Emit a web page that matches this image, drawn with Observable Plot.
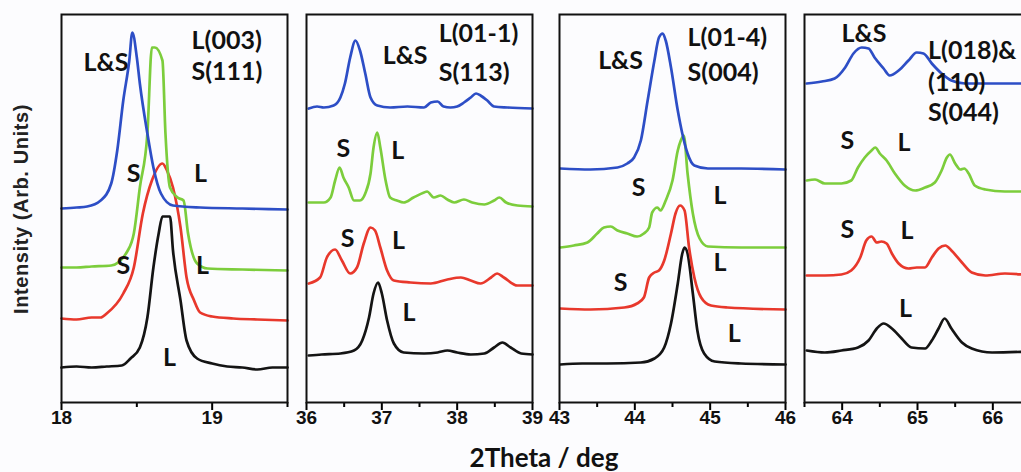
<!DOCTYPE html>
<html><head><meta charset="utf-8">
<script src="https://cdn.jsdelivr.net/npm/d3@7"></script>
<script src="https://cdn.jsdelivr.net/npm/@observablehq/plot@0.6"></script>
<style>
html,body{margin:0;padding:0;background:#fcfcfe;}
#wrap{position:relative;width:1021px;height:472px;overflow:hidden;background:#fcfcfe;}
.panel{position:absolute;top:0;}
#ylab{position:absolute;left:21px;top:209px;transform:translate(-50%,-50%) rotate(-90deg);font:bold 20px "Liberation Sans",Arial,sans-serif;letter-spacing:0.6px;white-space:nowrap;color:#222;}
#xlab{position:absolute;left:544px;top:457px;transform:translate(-50%,-50%);font:bold 26px Lato,sans-serif;white-space:nowrap;color:#111;}
</style></head><body>
<div id="wrap"><div id="ylab">Intensity (Arb. Units)</div><div id="xlab">2Theta / deg</div></div>
<script>
// ---- Panel 1: 18–19.5 deg ----
const p1Black = [[18.0,35],[18.1,36],[18.2,35],[18.3,36],[18.4,37],[18.458,44],[18.52,55],[18.57,85],[18.61,135],[18.645,169],[18.67,186],[18.72,186],[18.74,152],[18.79,102],[18.83,62],[18.9,44],[19.0,39],[19.1,36],[19.2,35],[19.3,33],[19.4,35],[19.5,35]];
const p1Red = [[18.0,84],[18.1,83],[18.2,85],[18.26,85],[18.3,89],[18.41,109],[18.48,135],[18.54,189],[18.6,222],[18.67,239],[18.7,232],[18.74,215],[18.79,175],[18.83,125],[18.88,102],[18.92,90],[19.0,86],[19.14,84],[19.3,83],[19.5,82]];
const p1Green = [[18.0,135],[18.1,135],[18.2,136],[18.33,137],[18.44,152],[18.48,169],[18.52,215],[18.57,269],[18.6,355],[18.62,355],[18.67,342],[18.69,269],[18.72,215],[18.77,205],[18.81,202],[18.84,169],[18.9,139],[18.97,134],[19.2,133],[19.5,132]];
const p1Blue = [[18.0,194],[18.1,195],[18.17,196],[18.26,202],[18.33,219],[18.37,252],[18.41,302],[18.45,342],[18.47,370],[18.5,345],[18.52,319],[18.57,269],[18.61,235],[18.66,209],[18.74,197],[18.92,195],[19.2,194],[19.5,193]];
// ---- Panel 2: 36–39 deg ----
const p2Black = [[36.03,47],[36.2,48],[36.45,49],[36.63,52],[36.74,62],[36.83,85],[36.89,109],[36.95,120],[37.0,109],[37.07,82],[37.16,59],[37.29,50],[37.56,49],[37.74,50],[37.87,52],[38.0,50],[38.18,48],[38.36,49],[38.49,55],[38.6,60],[38.71,55],[38.85,49],[39.0,48]];
const p2Red = [[36.03,119],[36.18,125],[36.27,145],[36.38,153],[36.47,142],[36.58,129],[36.67,135],[36.76,159],[36.85,175],[36.91,172],[36.98,155],[37.07,132],[37.16,122],[37.38,120],[37.65,119],[37.87,123],[38.05,125],[38.18,122],[38.31,119],[38.45,125],[38.53,129],[38.62,125],[38.8,117],[39.0,117]];
const p2Green = [[36.03,200],[36.23,200],[36.32,205],[36.38,222],[36.44,235],[36.49,225],[36.56,215],[36.63,202],[36.71,202],[36.78,209],[36.85,229],[36.89,255],[36.94,270],[36.98,255],[37.05,222],[37.11,205],[37.2,202],[37.29,200],[37.42,205],[37.56,210],[37.6,211],[37.69,205],[37.78,207],[37.87,203],[37.96,200],[38.09,203],[38.2,200],[38.36,198],[38.49,202],[38.56,205],[38.65,200],[38.8,197],[39.0,196]];
const p2Blue = [[36.03,294],[36.14,296],[36.23,295],[36.36,297],[36.45,305],[36.51,319],[36.58,345],[36.65,362],[36.71,352],[36.78,329],[36.85,305],[36.94,297],[37.11,295],[37.34,296],[37.56,295],[37.65,300],[37.74,301],[37.82,296],[37.91,295],[38.0,296],[38.09,300],[38.18,305],[38.25,309],[38.31,307],[38.4,302],[38.49,296],[38.67,295],[39.0,294]];
// ---- Panel 3: 43–46 deg ----
const p3Black = [[43.01,38],[43.3,39],[43.63,39],[44.08,40],[44.26,44],[44.39,55],[44.48,79],[44.57,119],[44.63,149],[44.66,155],[44.7,149],[44.77,109],[44.83,72],[44.92,49],[45.06,41],[45.41,39],[46.0,38]];
const p3Red = [[43.01,94],[43.41,93],[43.86,95],[44.03,99],[44.12,105],[44.19,125],[44.26,130],[44.32,132],[44.39,142],[44.48,169],[44.54,189],[44.6,197],[44.66,192],[44.72,155],[44.79,125],[44.88,105],[45.01,97],[45.23,95],[46.0,93]];
const p3Green = [[43.01,155],[43.19,157],[43.37,160],[43.5,169],[43.59,175],[43.68,176],[43.77,172],[43.9,169],[44.03,166],[44.12,169],[44.19,175],[44.23,190],[44.3,195],[44.34,192],[44.41,202],[44.5,222],[44.57,252],[44.61,262],[44.65,267],[44.7,229],[44.77,189],[44.86,164],[44.97,156],[45.41,155],[46.0,155]];
const p3Blue = [[43.01,234],[43.41,233],[43.77,235],[43.9,239],[43.99,245],[44.08,262],[44.17,302],[44.26,342],[44.32,365],[44.37,369],[44.41,362],[44.48,335],[44.57,292],[44.63,269],[44.7,249],[44.79,237],[44.97,234],[45.41,234],[46.0,233]];
// ---- Panel 4: 63.5–66.5 deg ----
const p4Black = [[63.53,52],[63.77,50],[63.99,52],[64.21,55],[64.35,62],[64.46,74],[64.55,79],[64.66,74],[64.79,64],[64.92,55],[65.1,54],[65.19,62],[65.28,74],[65.36,84],[65.45,74],[65.59,60],[65.72,54],[65.99,50],[66.5,51]];
const p4Red = [[63.53,127],[63.77,127],[63.99,128],[64.12,132],[64.24,145],[64.32,162],[64.39,166],[64.46,160],[64.52,161],[64.59,159],[64.66,149],[64.75,139],[64.88,134],[64.99,135],[65.1,135],[65.19,145],[65.28,154],[65.37,157],[65.45,152],[65.59,140],[65.72,130],[65.9,127],[66.16,129],[66.5,127]];
const p4Green = [[63.53,222],[63.64,223],[63.77,219],[63.99,219],[64.12,222],[64.21,235],[64.3,245],[64.39,252],[64.44,255],[64.5,249],[64.59,242],[64.7,229],[64.83,217],[64.97,212],[65.1,215],[65.23,220],[65.32,232],[65.39,245],[65.43,248],[65.5,239],[65.57,233],[65.62,234],[65.68,229],[65.76,217],[65.9,213],[66.16,211],[66.5,211]];
const p4Blue = [[63.53,319],[63.73,321],[63.9,324],[64.04,335],[64.15,349],[64.26,355],[64.35,354],[64.43,345],[64.55,334],[64.63,327],[64.75,332],[64.88,342],[64.99,350],[65.08,349],[65.19,339],[65.32,329],[65.45,322],[65.63,319],[65.99,319],[66.5,319]];

// ---- x domains and ticks ----
const domains = [[18,19.5],[36,39],[43,46],[63.5,66.5]];
const majorTicks = [[18,19],[36,37,38,39],[43,44,45,46],[64,65,66]];
const minorTicks = [[18.5,19.5],[36.5,37.5,38.5],[43.5,44.5,45.5],[63.5,64.5,65.5,66.5]];

// ---- annotations (data coordinates) ----
const hklLabels = [
  [[18.863,362,"L(003)"],[18.863,331,"S(111)"]],
  [[37.755,369,"L(01-1)"],[37.755,330,"S(113)"]],
  [[44.70,365,"L(01-4)"],[44.70,330,"S(004)"]],
  [[65.14,352,"L(018)&"],[65.14,320,"(110)"],[65.14,290,"S(044)"]]
];
const peakLabels = [
  [[18.295,340,"L&S"],[18.478,229,"S"],[18.922,229,"L"],[18.411,137,"S"],[18.936,137,"L"],[18.717,45,"L"]],
  [[37.31,347,"L&S"],[36.49,254,"S"],[37.21,252,"L"],[36.545,164,"S"],[37.22,162,"L"],[37.36,90,"L"]],
  [[43.81,342,"L&S"],[44.05,215,"S"],[45.13,207,"L"],[45.13,140,"L"],[43.81,120,"S"],[45.32,69,"L"]],
  [[64.29,369,"L&S"],[64.07,262,"S"],[64.82,260,"L"],[64.07,173,"S"],[64.86,172,"L"],[64.84,94,"L"]]
];

const seriesNames = ["sample 1","sample 2","sample 3","sample 4"];
const seriesColors = ["#141414","#e8382c","#7ccd3c","#2d4ec6"];
const panelsData = [
  [p1Black,p1Red,p1Green,p1Blue],
  [p2Black,p2Red,p2Green,p2Blue],
  [p3Black,p3Red,p3Green,p3Blue],
  [p4Black,p4Red,p4Green,p4Blue]
];

const frameLefts = [61,306,559,804];
const plotW = 226, mL = 20, mR = 20;
const labelFont = "Lato, 'Open Sans', sans-serif";
const tickFont = "'Liberation Sans', Arial, sans-serif";

const wrap = document.getElementById("wrap");
panelsData.forEach((series, i) => {
  const rows = [];
  series.forEach((pts, s) => pts.forEach(([x,y]) => rows.push({x, y, s: seriesNames[s]})));
  const hkl = hklLabels[i].map(([x,y,t]) => ({x,y,t}));
  const pk = peakLabels[i].map(([x,y,t]) => ({x,y,t}));
  const chart = Plot.plot({
    width: mL + plotW + mR,
    height: 472,
    marginLeft: mL, marginRight: mR, marginTop: 14, marginBottom: 70,
    style: {background: "transparent", overflow: "visible", maxWidth: "none"},
    x: {domain: domains[i], label: null},
    y: {domain: [0, 388], axis: null},
    color: {domain: seriesNames, range: seriesColors},
    marks: [
      Plot.line(rows, {x: "x", y: "y", z: "s", stroke: "s", strokeWidth: 2.7, strokeLinejoin: "round", curve: "monotone-x"}),
      Plot.text(pk, {x: "x", y: "y", text: "t", fontSize: 25, fontWeight: "bold", fontFamily: labelFont, fill: "#111"}),
      Plot.text(hkl, {x: "x", y: "y", text: "t", fontSize: 25, fontWeight: "bold", fontFamily: labelFont, fill: "#111", textAnchor: "start"}),
      Plot.axisX({ticks: minorTicks[i], tickSize: 5, tickFormat: () => "", strokeWidth: 2, label: null}),
      Plot.axisX({ticks: majorTicks[i], tickSize: 8, tickFormat: () => "", strokeWidth: 2, label: null}),
      Plot.text(majorTicks[i], {x: d => d, frameAnchor: "bottom", dy: 21, text: d => String(d), fontSize: 19, fontWeight: "bold", fontFamily: tickFont, fill: "#111"}),
      Plot.frame({stroke: "#111", strokeWidth: 2})
    ]
  });
  const div = document.createElement("div");
  div.className = "panel";
  div.style.left = (frameLefts[i] - mL) + "px";
  div.appendChild(chart);
  wrap.appendChild(div);
});
</script>
</body></html>
